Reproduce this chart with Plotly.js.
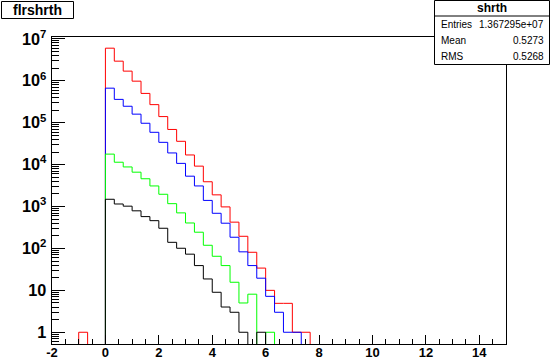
<!DOCTYPE html>
<html>
<head>
<meta charset="utf-8">
<script src="https://cdn.plot.ly/plotly-3.0.1.min.js"></script>
<style>
  html, body { margin: 0; padding: 0; background: #fff; }
  #chart { width: 551px; height: 359px; }
</style>
</head>
<body>
<div id="chart"></div>
<script>
// ---- data (bin contents, bins of width 1/3) ----
const binWidth = 1 / 3;
const redStart = -1;   // lower edge of first red bin
const redCounts = [1, 0, 0,
  6.0e6, 2.94e6, 1.7e6, 9.8e5, 5.0e5, 2.7e5, 1.4e5, 6.9e4, 3.6e4, 1.7e4,
  9.2e3, 3.9e3, 1.9e3, 980, 424, 195, 81, 34, 10, 4.9, 4.9, 1, 1];
const blueStart = 0;
const blueCounts = [6.67e5, 3.6e5, 2.47e5, 1.6e5, 9.7e4, 5.9e4, 3.4e4, 1.9e4, 1.07e4, 5.3e3,
  3.1e3, 1.4e3, 690, 400, 185, 83, 39, 19.5, 7.2, 3.0, 1, 1];
const greenStart = 0;
const greenCounts = [1.78e4, 1.14e4, 8.8e3, 6.6e3, 4.6e3, 3.1e3, 1.96e3, 1.17e3, 705, 405,
  244, 119, 65, 39, 15.6, 5.0, 8.1, 0, 1];
const blackStart = 0;
const blackCounts = [1.49e3, 1.15e3, 1.02e3, 790, 575, 460, 303, 140, 101, 73,
  39, 18.7, 9.0, 4.0, 3.0, 1, 0, 1];

const xTickVals = [-2, 0, 2, 4, 6, 8, 10, 12, 14];
const xTickLabels = ["-2", "0", "2", "4", "6", "8", "10", "12", "14"];

const histTitle = "flrshrth";
const statsTitle = "shrth";
const statsLabels = ["Entries", "Mean", "RMS"];
const statsValues = ["1.367295e+07", "0.5273", "0.5268"];

const xRange = [-2, 15];
const yLogRange = [-0.28, 7.045];

// ---- build step outlines ----
function stepTrace(start, counts, color) {
  const floor = Math.pow(10, yLogRange[0] - 1);
  const xs = [start], ys = [floor];
  counts.forEach((c, i) => {
    xs.push(start + i * binWidth);
    ys.push(c > 0 ? c : floor);
  });
  xs.push(start + counts.length * binWidth);
  ys.push(floor);
  return {
    type: 'scatter', mode: 'lines', x: xs, y: ys,
    line: { shape: 'hv', color: color, width: 1 },
    hoverinfo: 'skip', showlegend: false
  };
}

const traces = [
  stepTrace(redStart, redCounts, '#ff0000'),
  stepTrace(blueStart, blueCounts, '#0000ff'),
  stepTrace(greenStart, greenCounts, '#00ff00'),
  stepTrace(blackStart, blackCounts, '#000000')
];

const W = 551, H = 359;
const M = { l: 52, r: 45, t: 37, b: 15 };
const PW = W - M.l - M.r, PH = H - M.t - M.b;
// figure pixel -> paper fraction (paper = plot area)
const px = (x) => (x - M.l) / PW;
const py = (y) => (H - M.b - y) / PH;
const FAM = 'Liberation Sans, Arial, sans-serif';
const tickFont = { family: FAM, size: 13, color: '#000', weight: 'bold' };

const annotations = [
  { xref: 'paper', yref: 'paper', x: px(37), y: py(10), text: histTitle, showarrow: false,
    xanchor: 'center', yanchor: 'middle',
    font: { family: FAM, size: 14, color: '#000', weight: 'bold' } },
  { xref: 'paper', yref: 'paper', x: px(492), y: py(8.5), text: statsTitle, showarrow: false,
    xanchor: 'center', yanchor: 'middle',
    font: { family: FAM, size: 12, color: '#000', weight: 'bold' } }
];
statsLabels.forEach((lab, i) => {
  const yy = 24.5 + i * 16;
  annotations.push({ xref: 'paper', yref: 'paper', x: px(439), y: py(yy), text: lab, showarrow: false,
    xanchor: 'left', yanchor: 'middle',
    font: { family: FAM, size: 10, color: '#000' } });
  annotations.push({ xref: 'paper', yref: 'paper', x: px(546), y: py(yy), text: statsValues[i], showarrow: false,
    xanchor: 'right', yanchor: 'middle',
    font: { family: FAM, size: 10, color: '#000' } });
});

const shapes = [
  { type: 'rect', xref: 'paper', yref: 'paper', x0: px(1.5), x1: px(73.5), y0: py(1.5), y1: py(18.5),
    line: { color: '#000', width: 1 }, fillcolor: '#fff', layer: 'above' },
  { type: 'rect', xref: 'paper', yref: 'paper', x0: px(434.5), x1: px(549.5), y0: py(0.5), y1: py(64.5),
    line: { color: '#000', width: 1 }, fillcolor: '#fff', layer: 'above' },
  { type: 'line', xref: 'paper', yref: 'paper', x0: px(434.5), x1: px(549.5), y0: py(16), y1: py(16),
    line: { color: '#000', width: 1 }, layer: 'above' }
];

const layout = {
  width: W, height: H,
  margin: { l: M.l, r: M.r, t: M.t, b: M.b, pad: 0 },
  paper_bgcolor: '#fff', plot_bgcolor: '#fff',
  showlegend: false,
  xaxis: {
    range: xRange, tickmode: 'array', tickvals: xTickVals, ticktext: xTickLabels,
    ticks: 'inside', ticklen: 9, tickwidth: 1, tickcolor: '#000',
    minor: { tickmode: 'linear', dtick: 0.5, tick0: 0, ticks: 'inside', ticklen: 5, tickwidth: 1, tickcolor: '#000', showgrid: false },
    showgrid: false, zeroline: false, showline: true, linecolor: '#000', linewidth: 1, mirror: true,
    tickfont: tickFont, ticklabelstandoff: -4
  },
  yaxis: {
    type: 'log', range: yLogRange, tickmode: 'linear', tick0: 0, dtick: 1,
    exponentformat: 'power',
    ticks: 'inside', ticklen: 13, tickwidth: 1, tickcolor: '#000',
    minor: { ticks: 'inside', ticklen: 7, tickwidth: 1, tickcolor: '#000', showgrid: false },
    showgrid: false, zeroline: false, showline: true, linecolor: '#000', linewidth: 1, mirror: true,
    tickfont: tickFont, ticklabelstandoff: 2
  },
  shapes: shapes,
  annotations: annotations
};

Plotly.newPlot('chart', traces, layout, { staticPlot: true, displayModeBar: false });
</script>
</body>
</html>
